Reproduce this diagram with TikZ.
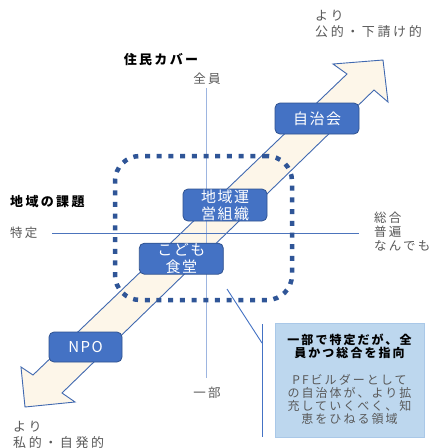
\documentclass[tikz,border=0pt]{standalone}
\usepackage{fontspec}
\setmainfont{Noto Sans CJK JP}
\newfontfamily\jpbox[LetterSpace=10]{Noto Sans CJK JP}
\newfontfamily\jplab[LetterSpace=18]{Noto Sans CJK JP}
\newfontfamily\jpcorner[LetterSpace=20]{Noto Sans CJK JP}
\newfontfamily\jpcall[LetterSpace=17]{Noto Sans CJK JP}
\definecolor{boxblue}{HTML}{4472C4}
\definecolor{boxborder}{HTML}{2F528F}
\definecolor{arrowfill}{HTML}{FDF6E9}
\definecolor{arrowline}{HTML}{4169B0}
\definecolor{dotblue}{HTML}{2F5597}
\definecolor{vaxis}{HTML}{9DB5E0}
\definecolor{haxis}{HTML}{4C74BC}
\definecolor{notefill}{HTML}{BDD7EE}
\definecolor{noteborder}{HTML}{A9C8E8}
\definecolor{graytext}{HTML}{595959}
\tikzset{
  boxnode/.style={rectangle, rounded corners=5pt, fill=boxblue, draw=boxborder, line width=0.8pt,
    text=white, align=center, inner sep=0pt, font=\jpbox\fontsize{15}{17}\selectfont},
  graylab/.style={inner sep=0pt, text=graytext, align=left, font=\jplab\fontsize{12.5}{14}\selectfont},
  cornerlab/.style={inner sep=0pt, text=graytext, align=left, font=\jpcorner\fontsize{13}{16}\selectfont},
  boldlab/.style={inner sep=0pt, text=black, font=\jplab\bfseries\fontsize{13}{15}\selectfont},
  axisline/.style={line width=0.9pt},
  bigarrow/.style={fill=arrowfill, draw=arrowline, line width=0.9pt, line join=miter},
  region/.style={draw=dotblue, line width=4.5pt, dash pattern=on 5pt off 6.7pt, rounded corners=25pt,
    inner sep=0pt},
  notebox/.style={rectangle, fill=notefill, draw=noteborder, line width=0.8pt, inner sep=0pt},
  notetitle/.style={inner sep=0pt, align=center, text=black, font=\jpcall\bfseries\fontsize{12}{13.5}\selectfont},
  notebody/.style={inner sep=0pt, align=center, text=graytext, font=\jpcall\fontsize{12}{13}\selectfont},
  leader/.style={draw=boxblue, line width=0.9pt}
}
\begin{document}
\begin{tikzpicture}[x=1pt, y=-1pt]
\useasboundingbox (0,0) rectangle (429,448);
\clip (0,0) rectangle (429,448);
\fill[white] (0,0) rectangle (429,448);

% cut-off heading at the top
\node[anchor=base west, inner sep=0pt, text=black!80, font=\fontsize{24}{24}\selectfont] (heading) at (11,-2) {図表};

% broad double arrow
\draw[bigarrow] (33,375) -- (347,74) -- (333,64) -- (383,60) -- (388,102) -- (374,90)
  -- (62,393) -- (75,402) -- (25,407) -- (21,367) -- cycle;

% axes
\coordinate (vtop) at (206,88);
\coordinate (vbot) at (206,378);
\coordinate (hleft) at (52,233);
\coordinate (hright) at (359,233);
\draw[axisline, vaxis] (vtop) -- (vbot);
\draw[axisline, haxis] (hleft) -- (hright);

% dotted region
\node[region, minimum width=177pt, minimum height=144pt] (area) at (203.5,228) {};

% organisation boxes
\node[boxnode, minimum width=84pt, minimum height=31pt] (jichikai) at (317,118.5) {自治会};
\node[boxnode, minimum width=84pt, minimum height=32pt] (rmo) at (225,205) {地域運\\営組織};
\node[boxnode, minimum width=84pt, minimum height=31pt] (kodomo) at (181.3,258.7) {こども\\食堂};
\node[boxnode, minimum width=73pt, minimum height=30pt] (npo) at (85.5,347) {NPO};

% axis labels
\node[boldlab] (cover) at (161,60) {住民カバー};
\node[graylab] (zenin) at (207,79) {全員};
\node[graylab] (ichibu) at (207,393) {一部};
\node[boldlab, anchor=west] (kadai) at (10,202) {地域の課題};
\node[graylab, anchor=west] (tokutei) at (10,233) {特定};
\node[graylab, anchor=west] (sogo) at (374,232) {総合\\普遍\\なんでも};
\node[cornerlab, anchor=west] (public) at (315,24) {より\\公的・下請け的};
\node[cornerlab, anchor=west] (private) at (13,435) {より\\私的・自発的};

% callout
\node[notebox, minimum width=149pt, minimum height=114pt] (note) at (349.5,380) {};
\node[notetitle] (notet) at (349.5,346.5) {一部で特定だが、全\\員かつ総合を指向};
\node[notebody] (noteb) at (349.5,399.5) {PFビルダーとして\\の自治体が、より拡\\充していくべく、知\\恵をひねる領域};
\coordinate (bartop) at (262,324);
\coordinate (barmid) at (262,343);
\coordinate (barbot) at (262,437);
\coordinate (leadstart) at (227,289);
\draw[leader] (bartop) -- (barbot);
\draw[leader] (leadstart) -- (barmid);
\end{tikzpicture}
\end{document}
